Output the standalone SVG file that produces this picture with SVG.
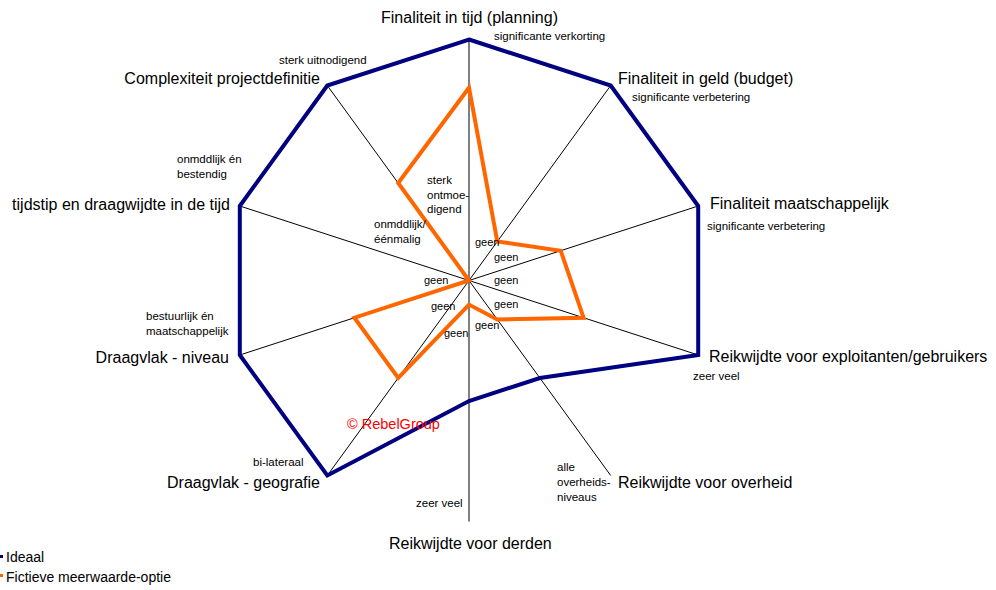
<svg xmlns="http://www.w3.org/2000/svg" width="996" height="590" viewBox="0 0 996 590">
<style>
text{font-family:"Liberation Sans",Arial,Helvetica,sans-serif;fill:#000}
.big{font-size:16px}
.sm{font-size:11.5px}
.g{font-size:11px}
.leg{font-size:14px}
.axis{stroke:#000;stroke-width:1;fill:none}
.ideal{stroke:#000080;stroke-width:4;fill:none;stroke-linejoin:miter}
.fict{stroke:#ff6600;stroke-width:4;fill:none;stroke-linejoin:miter}
.e{text-anchor:end}
</style>
<rect width="996" height="590" fill="#fff"/>
<g id="connectors">
<line class="axis" x1="469" y1="280.5" x2="469" y2="39.5"/>
<line class="axis" x1="469" y1="280.5" x2="610.7" y2="85.5"/>
<line class="axis" x1="469" y1="280.5" x2="698.2" y2="206"/>
<line class="axis" x1="469" y1="280.5" x2="698.2" y2="355"/>
<line class="axis" x1="469" y1="280.5" x2="610.7" y2="475.5"/>
<line class="axis" x1="469" y1="280.5" x2="469" y2="521.5"/>
<line class="axis" x1="469" y1="280.5" x2="327.3" y2="475.5"/>
<line class="axis" x1="469" y1="280.5" x2="239.8" y2="355"/>
<line class="axis" x1="469" y1="280.5" x2="239.8" y2="206"/>
<line class="axis" x1="469" y1="280.5" x2="327.3" y2="85.5"/>
</g>
<g id="series-ideaal">
<polygon class="ideal" points="469,39.5 610.7,85.5 698.2,206 698.2,355 539.9,378 469,401 327.3,475.5 239.8,355 239.8,206 327.3,85.5"/>
</g>
<g id="series-fictief">
<polygon class="fict" points="469,87.7 497.3,241.5 560.7,250.7 583.6,317.7 497.3,319.5 469,304.6 398.2,378 354.4,317.7 469,280.5 398.2,183"/>
</g>
<g id="axis-tijd">
<text class="big" x="381" y="23">Finaliteit in tijd (planning)</text>
<text class="sm" x="494" y="40">significante verkorting</text>
</g>
<g id="axis-geld">
<text class="big" x="618" y="84">Finaliteit in geld (budget)</text>
<text class="sm" x="632" y="101">significante verbetering</text>
</g>
<g id="axis-maatschappelijk">
<text class="big" x="710" y="209">Finaliteit maatschappelijk</text>
<text class="sm" x="707" y="230">significante verbetering</text>
</g>
<g id="axis-exploitanten">
<text class="big" x="709" y="362">Reikwijdte voor exploitanten/gebruikers</text>
<text class="sm" x="693" y="380">zeer veel</text>
</g>
<g id="axis-overheid">
<text class="big" x="618" y="488">Reikwijdte voor overheid</text>
<text class="sm" x="557" y="471">alle</text>
<text class="sm" x="557" y="486">overheids-</text>
<text class="sm" x="557" y="501">niveaus</text>
</g>
<g id="axis-derden">
<text class="big" x="389" y="549">Reikwijdte voor derden</text>
<text class="sm" x="416" y="507">zeer veel</text>
</g>
<g id="axis-geografie">
<text class="big e" x="320" y="488">Draagvlak - geografie</text>
<text class="sm" x="253" y="466">bi-lateraal</text>
</g>
<g id="axis-niveau">
<text class="big e" x="229" y="363">Draagvlak - niveau</text>
<text class="sm" x="146" y="320">bestuurlijk én</text>
<text class="sm" x="146" y="335">maatschappelijk</text>
</g>
<g id="axis-tijdstip">
<text class="big e" x="230" y="210">tijdstip en draagwijdte in de tijd</text>
<text class="sm" x="177" y="163">onmddlijk én</text>
<text class="sm" x="177" y="178">bestendig</text>
</g>
<g id="axis-complexiteit">
<text class="big e" x="320" y="84">Complexiteit projectdefinitie</text>
<text class="sm" x="279" y="64">sterk uitnodigend</text>
</g>
<g id="inner-labels">
<text class="sm" x="427" y="184">sterk</text>
<text class="sm" x="427" y="199">ontmoe-</text>
<text class="sm" x="427" y="213">digend</text>
<text class="sm" x="374" y="228">onmddlijk/</text>
<text class="sm" x="374" y="243">éénmalig</text>
<text class="g" x="475" y="246">geen</text>
<text class="g" x="494" y="261">geen</text>
<text class="g" x="494" y="284">geen</text>
<text class="g" x="494" y="308">geen</text>
<text class="g" x="475" y="329">geen</text>
<text class="g" x="424" y="284">geen</text>
<text class="g" x="431" y="310">geen</text>
<text class="g" x="444" y="337">geen</text>
</g>
<g id="copyright">
<text x="347" y="429" style="font-size:14.5px;fill:#ff0000">© RebelGroup</text>
</g>
<g id="legend">
<rect x="0" y="555" width="3" height="3" fill="#000080"/>
<text class="leg" x="6" y="562">Ideaal</text>
<rect x="0" y="574" width="3" height="3" fill="#ff6600"/>
<text class="leg" x="6" y="582">Fictieve meerwaarde-optie</text>
</g>
</svg>
